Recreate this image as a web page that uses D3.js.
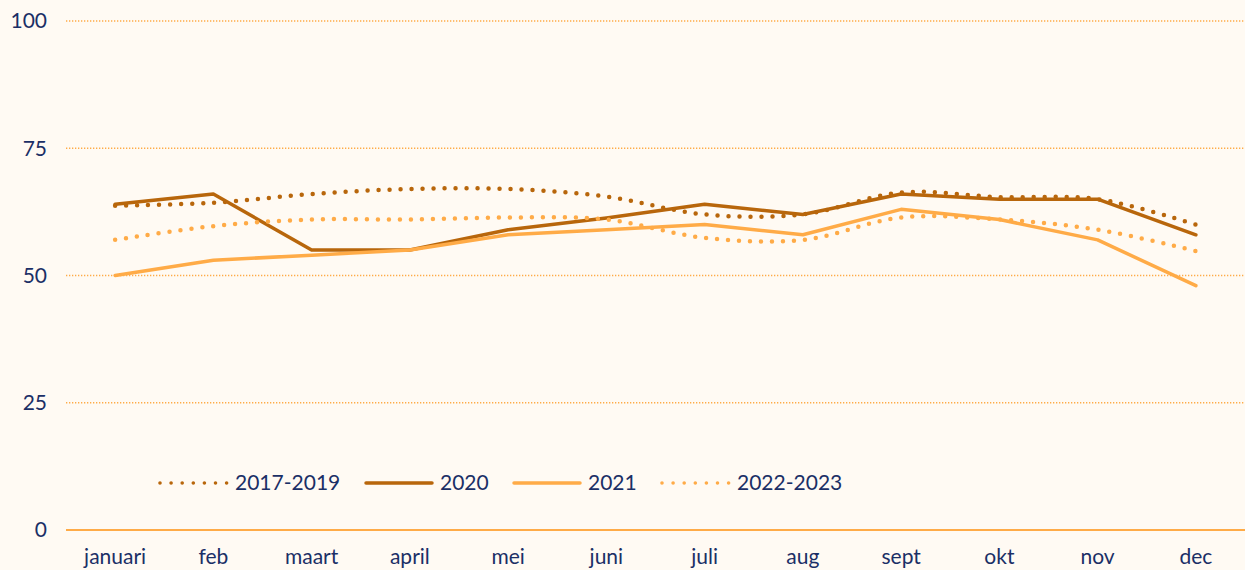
<!DOCTYPE html>
<html>
<head>
<meta charset="utf-8">
<script src="https://cdn.jsdelivr.net/npm/d3@7"></script>
<style>
  body { margin: 0; background: #fffaf3; }
  text { font-family: Lato, "Noto Sans", sans-serif; fill: #1b2f66; }
</style>
</head>
<body>
<script>
const months = ["januari", "feb", "maart", "april", "mei", "juni", "juli", "aug", "sept", "okt", "nov", "dec"];
const yTicks = [0, 25, 50, 75, 100];

const s2017 = [63.7, 64.3, 66, 67, 67, 65.5, 62, 62, 66.3, 65.4, 65, 60];
const s2020 = [64, 66, 55, 55, 59, 61.3, 64, 62, 66, 65, 65, 58];
const s2021 = [50, 53, 54, 55, 58, 59, 60, 58, 63, 61, 57, 48];
const s2022 = [57, 59.7, 61, 61, 61.4, 61, 57.4, 57, 61.4, 61, 59, 54.8];

const dark = "#b8660b";
const light = "#ffab47";

const series = [
  { name: "2017-2019", values: s2017, color: dark, dotted: true },
  { name: "2020", values: s2020, color: dark, dotted: false },
  { name: "2021", values: s2021, color: light, dotted: false },
  { name: "2022-2023", values: s2022, color: light, dotted: true }
];

const w = 1245, h = 570;
const mLeft = 66, mRight = 1245, mTop = 21, mBottom = 530;
const fs = 21;

const svg = d3.select("body").append("svg")
  .attr("width", w)
  .attr("height", h);

const x = d3.scaleBand().domain(months).range([mLeft, mRight]);
const y = d3.scaleLinear().domain([0, 100]).range([mBottom, mTop]);

// gridlines
svg.selectAll(".grid")
  .data(yTicks.filter(d => d > 0))
  .enter()
  .append("line")
  .attr("x1", mLeft).attr("x2", mRight)
  .attr("y1", d => y(d)).attr("y2", d => y(d))
  .attr("stroke", light)
  .attr("stroke-width", 1.3)
  .attr("stroke-dasharray", "1.3 1.7");

// baseline
svg.append("line")
  .attr("x1", mLeft).attr("x2", mRight)
  .attr("y1", y(0)).attr("y2", y(0))
  .attr("stroke", light)
  .attr("stroke-width", 2);

// y labels
svg.selectAll(".ylab")
  .data(yTicks)
  .enter()
  .append("text")
  .attr("x", 47)
  .attr("y", d => y(d))
  .attr("dy", "0.35em")
  .attr("text-anchor", "end")
  .attr("font-size", fs)
  .text(d => d);

// x labels
svg.selectAll(".xlab")
  .data(months)
  .enter()
  .append("text")
  .attr("x", d => x(d) + x.bandwidth() / 2)
  .attr("y", 557)
  .attr("dy", "0.35em")
  .attr("text-anchor", "middle")
  .attr("font-size", fs)
  .text(d => d);

const cx = (d, i) => x(months[i]) + x.bandwidth() / 2;

series.forEach(s => {
  const line = d3.line()
    .x(cx)
    .y(d => y(d))
    .curve(s.dotted ? d3.curveCatmullRom.alpha(0.5) : d3.curveLinear);
  svg.append("path")
    .datum(s.values)
    .attr("d", line)
    .attr("fill", "none")
    .attr("stroke", s.color)
    .attr("stroke-width", s.dotted ? 4.5 : 3.5)
    .attr("stroke-linecap", "round")
    .attr("stroke-linejoin", "round")
    .attr("stroke-dasharray", s.dotted ? "0 11" : null);
});

// legend
const legendX = [160, 366, 514, 662];
const lg = svg.selectAll(".legend")
  .data(series)
  .enter()
  .append("g")
  .attr("transform", (d, i) => `translate(${legendX[i]},483)`);

lg.append("line")
  .attr("x1", 0).attr("x2", d => d.dotted ? 67 : 66)
  .attr("y1", 0).attr("y2", 0)
  .attr("stroke", d => d.color)
  .attr("stroke-width", d => d.dotted ? 3.6 : 3.5)
  .attr("stroke-linecap", "round")
  .attr("stroke-dasharray", d => d.dotted ? "0 11.1" : null);

lg.append("text")
  .attr("x", d => d.dotted ? 75 : 74)
  .attr("y", 0)
  .attr("dy", "0.35em")
  .attr("font-size", fs)
  .text(d => d.name);
</script>
</body>
</html>
